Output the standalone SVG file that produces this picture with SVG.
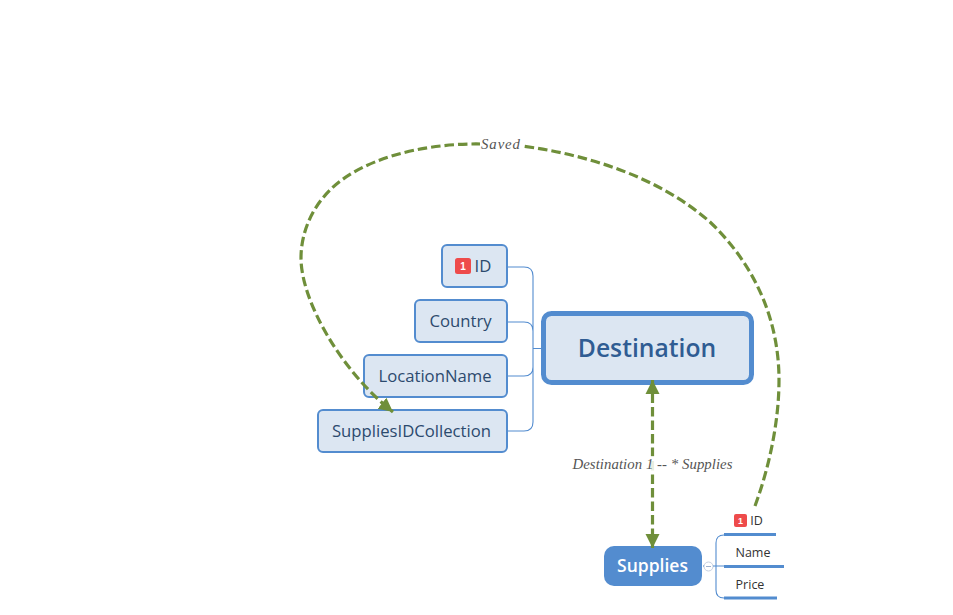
<svg xmlns="http://www.w3.org/2000/svg" width="953" height="615" viewBox="0 0 953 615">
<style>
.n{fill:#dce6f2;stroke:#538ccf;stroke-width:2}
.t{font-family:"Open Sans","Noto Sans",sans-serif;fill:#2c4a6e;font-size:16.7px;text-anchor:middle}
.s{font-family:"Open Sans","Noto Sans",sans-serif;fill:#333;font-size:12.5px;text-anchor:middle}
.c{fill:none;stroke:#538ccf;stroke-width:1.1}
.r{fill:none;stroke:#6f8f3a;stroke-width:3.2;stroke-dasharray:9.500 4}
.l{font-family:"Liberation Serif",serif;font-style:italic;fill:#555;font-size:14.800px;text-anchor:middle}
.b{fill:#ee4b4b}
.bt{font-family:"Liberation Sans",sans-serif;font-weight:700;font-size:10px;fill:#fff;text-anchor:middle}
.u{stroke:#538ccf;stroke-width:3;fill:none}
</style>
<defs>
<marker id="a" markerUnits="userSpaceOnUse" markerWidth="16" markerHeight="16" refX="14" refY="8" orient="auto-start-reverse"><path d="M0 1L14 8L0 15Z" fill="#6f8f3a"/></marker>
</defs>
<g id="node-destination">
<rect x="543.500" y="313.500" width="208" height="69" rx="8" fill="#dce6f2" stroke="#538ccf" stroke-width="5"/>
<text x="647" y="357" font-family="Open Sans, Noto Sans, sans-serif" font-weight="600" font-size="24.700px" fill="#2f5c93" text-anchor="middle">Destination</text>
</g>
<g id="node-id">
<rect class="n" x="442" y="245" width="65" height="42" rx="5"/>
<rect class="b" x="455" y="258" width="16" height="16" rx="2.500"/>
<text class="bt" x="463" y="269.500">1</text>
<text class="t" x="483" y="272">ID</text>
</g>
<g id="node-country">
<rect class="n" x="415" y="300" width="92" height="42" rx="5"/>
<text class="t" x="460.500" y="327">Country</text>
</g>
<g id="node-locationname">
<rect class="n" x="364" y="355" width="143" height="42" rx="5"/>
<text class="t" x="435" y="382">LocationName</text>
</g>
<g id="node-suppliesidcollection">
<rect class="n" x="318" y="410" width="189" height="42" rx="5"/>
<text class="t" x="411.500" y="437">SuppliesIDCollection</text>
</g>
<g id="node-supplies">
<rect x="604" y="546" width="98" height="40" rx="10" fill="#538ccf"/>
<text x="652.500" y="572" font-family="Open Sans, Noto Sans, sans-serif" font-weight="600" font-size="17.500px" fill="#fff" text-anchor="middle">Supplies</text>
<circle cx="708.500" cy="566.500" r="4.500" fill="#fff" stroke="#c5cfe0"/>
<path d="M706 566.500H711" stroke="#9fb0cc"/>
</g>
<g id="node-supplies-id">
<rect class="b" x="734" y="514" width="13" height="13" rx="2"/>
<text class="bt" x="740.500" y="524" style="font-size:9px">1</text>
<text class="s" x="756.500" y="525">ID</text>
<path class="u" d="M724 534.500H776"/>
</g>
<g id="node-supplies-name">
<text class="s" x="753" y="557">Name</text>
<path class="u" d="M724 566.500H784"/>
</g>
<g id="node-supplies-price">
<text class="s" x="750" y="589">Price</text>
<path class="u" d="M724 598H777"/>
</g>
<g id="connectors">
<path class="c" d="M508 267H524Q533 267 533 276V422Q533 431 524 431H508M508 322H524Q533 322 533 331V367Q533 376 524 376H508M533 348.500H541"/>
<path class="c" d="M703 566H704M776 535H724Q716 535 716 543V590Q716 598 724 598H776M713 566H724"/>
<path class="r" d="M755 506C770 465 779 420 779 380C779 320 755 265 710 222C660 178 590 155 522 146"/>
<path class="r" d="M481 144C420 143 360 160 330 190C310 210 301 235 301 258C301 300 340 370 393 412" marker-end="url(#a)"/>
<path class="r" d="M652.500 380V548" marker-start="url(#a)" marker-end="url(#a)"/>
</g>
<g id="relation-labels">
<rect x="480" y="136" width="41" height="16" fill="#fff"/>
<text class="l" x="500.500" y="148.500" textLength="39">Saved</text>
<rect x="572" y="456" width="161" height="16" fill="#fff" opacity=".85"/>
<text class="l" x="652.500" y="468.500" textLength="160">Destination 1 -- * Supplies</text>
</g>
</svg>
